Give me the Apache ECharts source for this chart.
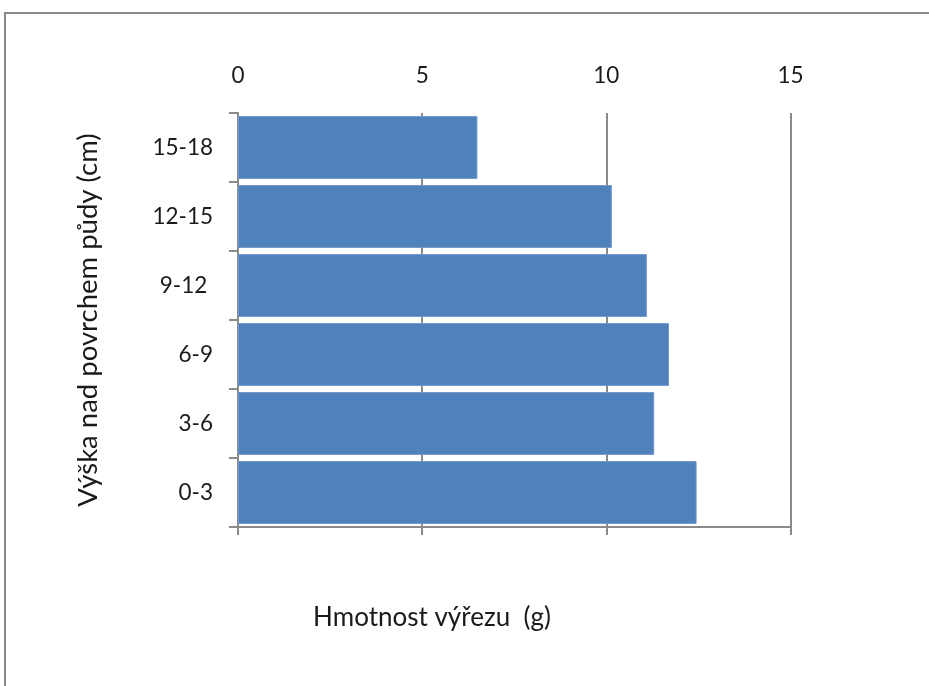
<!DOCTYPE html>
<html>
<head>
<meta charset="utf-8">
<script src="https://cdn.jsdelivr.net/npm/echarts@6/dist/echarts.min.js"></script>
<style>
  html, body { margin: 0; padding: 0; background: #fff; }
  #chart { width: 929px; height: 686px; }
</style>
</head>
<body>
<div id="chart"></div>
<script>
// Height bands above the soil surface, listed bottom to top
const categories = ['0-3', '3-6', '6-9', '9-12 ', '12-15', '15-18'];
// Mass of the cut section in each band (g)
const values = [12.45, 11.3, 11.7, 11.1, 10.15, 6.5];
// Value axis ticks
const xTicks = [0, 5, 10, 15];

const FONT = 'Lato';
const TEXT = '#1a1a1a';
const LINE = '#8a8a8a';

const chart = echarts.init(document.getElementById('chart'), null, { renderer: 'canvas' });

chart.setOption({
  animation: false,
  backgroundColor: '#fff',
  textStyle: { fontFamily: FONT },
  grid: { left: 238, right: 138.5, top: 113, bottom: 159 },
  xAxis: [
    {
      type: 'value',
      position: 'bottom',
      min: xTicks[0],
      max: xTicks[xTicks.length - 1],
      interval: 5,
      axisLine: { show: true, lineStyle: { color: LINE, width: 2 } },
      axisTick: { show: true, length: 8, lineStyle: { color: LINE, width: 2 } },
      axisLabel: { show: false },
      splitLine: { show: true, lineStyle: { color: LINE, width: 2 } }
    },
    {
      type: 'value',
      position: 'top',
      min: xTicks[0],
      max: xTicks[xTicks.length - 1],
      interval: 5,
      axisLine: { show: false },
      axisTick: { show: false },
      splitLine: { show: false },
      axisLabel: { show: true, color: TEXT, fontFamily: FONT, fontSize: 22.5, margin: 26 }
    }
  ],
  yAxis: {
    type: 'category',
    data: categories,
    name: 'Výška nad povrchem půdy (cm)',
    nameLocation: 'middle',
    nameGap: 136,
    nameTextStyle: { color: TEXT, fontFamily: FONT, fontSize: 27.5 },
    axisLine: { show: true, lineStyle: { color: LINE, width: 2 } },
    axisTick: { show: true, length: 9, lineStyle: { color: LINE, width: 2 } },
    axisLabel: { color: TEXT, fontFamily: FONT, fontSize: 22.5, margin: 25 },
    splitLine: { show: false }
  },
  series: [{
    type: 'bar',
    xAxisIndex: 0,
    data: values,
    barCategoryGap: '9%',
    itemStyle: { color: '#4F81BD', borderColor: '#7097c9', borderWidth: 1 }
  }],
  graphic: [
    {
      type: 'rect',
      shape: { x: 5, y: 13, width: 1200, height: 1000 },
      style: { fill: 'none', stroke: LINE, lineWidth: 2 },
      z: 100
    },
    {
      type: 'text',
      x: 432,
      y: 618,
      style: {
        text: 'Hmotnost výřezu  (g)',
        fill: TEXT,
        font: '26px ' + FONT,
        textAlign: 'center',
        textVerticalAlign: 'middle'
      }
    }
  ]
});
</script>
</body>
</html>
